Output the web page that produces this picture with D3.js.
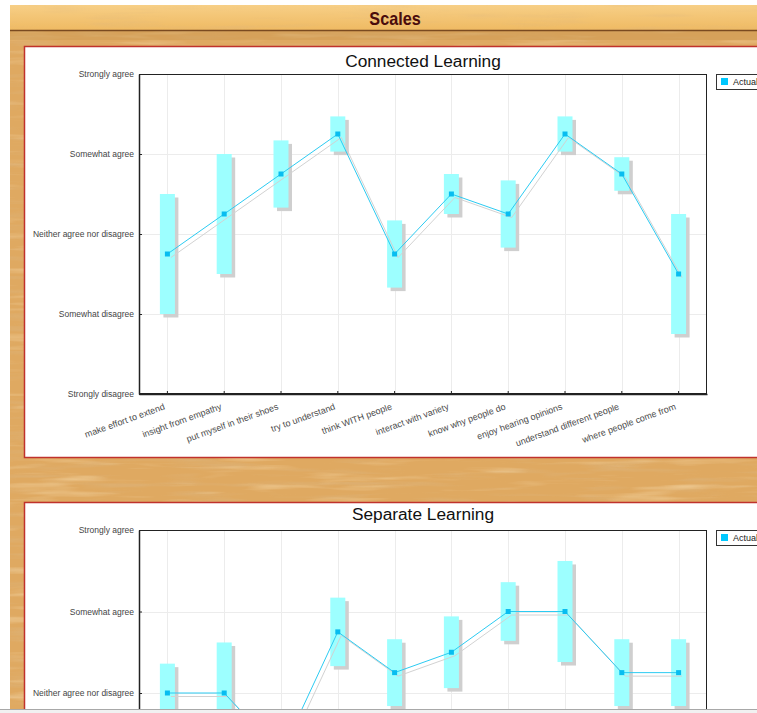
<!DOCTYPE html>
<html>
<head>
<meta charset="utf-8">
<script src="https://cdn.jsdelivr.net/npm/d3@7"></script>
<style>
  html, body { margin: 0; padding: 0; background: #ffffff; overflow: hidden; }
  svg { display: block; font-family: "Liberation Sans", Arial, sans-serif; }
</style>
</head>
<body>
<svg id="chart" width="757" height="713"></svg>
<script>
// ---------- data ----------
const levelLabels = ["Strongly disagree", "Somewhat disagree", "Neither agree nor disagree", "Somewhat agree", "Strongly agree"];
const levelValues = [1, 2, 3, 4, 5];

const connectedItems = ["make effort to extend", "insight from empathy", "put myself in their shoes", "try to understand",
  "think WITH people", "interact with variety", "know why people do", "enjoy hearing opinions",
  "understand different people", "where people come from"];
const connectedMean = [2.75, 3.25, 3.75, 4.25, 2.75, 3.5, 3.25, 4.25, 3.75, 2.5];
const connectedHigh = [3.5, 4.0, 4.17, 4.47, 3.17, 3.75, 3.67, 4.47, 3.96, 3.25];
const connectedLow  = [2.0, 2.5, 3.33, 4.03, 2.33, 3.25, 2.83, 4.03, 3.54, 1.75];

const separateItems = ["critique arguments", "look for flaws", "play devil's advocate", "evaluate evidence",
  "argue with authors", "objective criteria", "pick apart ideas", "separate feelings",
  "logical reasoning", "test ideas"];
const separateMean = [3.0, 3.0, 2.25, 3.75, 3.25, 3.5, 4.0, 4.0, 3.25, 3.25];
const separateHigh = [3.36, 3.62, 2.7, 4.17, 3.66, 3.94, 4.36, 4.62, 3.66, 3.66];
const separateLow  = [2.64, 2.38, 1.8, 3.33, 2.84, 3.06, 3.64, 3.38, 2.84, 2.84];

const seriesName = "Actual";
const pageTitle = "Scales";

// ---------- page ----------
const svg = d3.select("#chart");
const W = 757, H = 713, VIEW_BOTTOM = 709;
const defs = svg.append("defs");

function grainFilter(id, freq, seed, matrix) {
  const f = defs.append("filter").attr("id", id)
    .attr("x", 0).attr("y", 0).attr("width", 1).attr("height", 1);
  f.append("feTurbulence").attr("type", "fractalNoise")
    .attr("baseFrequency", freq).attr("numOctaves", 3).attr("seed", seed);
  f.append("feColorMatrix").attr("type", "matrix").attr("values", matrix);
}
// darker streaks
grainFilter("grainDark", "0.012 0.16", 7, "0 0 0 0 0.72  0 0 0 0 0.47  0 0 0 0 0.22  0 0 0 -3.0 1.5");
// lighter streaks
grainFilter("grainLight", "0.01 0.12", 19, "0 0 0 0 0.96  0 0 0 0 0.78  0 0 0 0 0.50  0 0 0 3.0 -1.65");

const hdrGrad = defs.append("linearGradient").attr("id", "hdr").attr("x1", 0).attr("y1", 0).attr("x2", 0).attr("y2", 1);
hdrGrad.append("stop").attr("offset", "0%").attr("stop-color", "#f7cf86");
hdrGrad.append("stop").attr("offset", "100%").attr("stop-color", "#efba63");

// wood background
svg.append("rect").attr("x", 10).attr("y", 5).attr("width", W - 10).attr("height", 704).attr("fill", "#dfa961");
svg.append("rect").attr("x", 10).attr("y", 5).attr("width", W - 10).attr("height", 704).attr("filter", "url(#grainDark)").attr("opacity", 0.45);
svg.append("rect").attr("x", 10).attr("y", 5).attr("width", W - 10).attr("height", 704).attr("filter", "url(#grainLight)").attr("opacity", 0.45);
// header band
svg.append("rect").attr("x", 10).attr("y", 5).attr("width", W - 10).attr("height", 25).attr("fill", "url(#hdr)");
svg.append("rect").attr("x", 10).attr("y", 5).attr("width", W - 10).attr("height", 25).attr("filter", "url(#grainDark)").attr("opacity", 0.25);
svg.append("rect").attr("x", 10).attr("y", 31).attr("width", W - 10).attr("height", 9).attr("fill", "#c99550").attr("opacity", 0.4);
svg.append("line").attr("x1", 10).attr("x2", W).attr("y1", 30.5).attr("y2", 30.5).attr("stroke", "#7a4a20").attr("stroke-width", 1.5);
svg.append("text").attr("text-anchor", "middle")
  .attr("transform", "translate(395,25) scale(0.9,1)")
  .style("font-family", "'Liberation Sans', Arial, sans-serif")
  .style("font-weight", "bold").style("font-size", "18px").attr("fill", "#4a0c0c").text(pageTitle);

// ---------- chart ----------
function drawPanel(cfg) {
  const g = svg.append("g");
  // panel box
  g.append("rect").attr("x", 24.5).attr("y", cfg.panelTop + 0.5).attr("width", W + 20).attr("height", cfg.panelH)
    .attr("fill", "#ffffff").attr("stroke", "#c0322c").attr("stroke-width", 1.5);

  const x = d3.scaleBand().domain(cfg.items).range([cfg.left, cfg.right]).paddingInner(0).paddingOuter(0);
  const y = d3.scaleLinear().domain([1, 5]).range([cfg.bottom, cfg.top]);
  const cx = d => x(d) + x.bandwidth() / 2;

  // title
  g.append("text").attr("x", (cfg.left + cfg.right) / 2).attr("y", cfg.titleY).attr("text-anchor", "middle")
    .style("font-size", "17.3px").attr("fill", "#111").text(cfg.title);

  // grid
  g.append("g").selectAll("line.h").data(levelValues).join("line")
    .attr("x1", cfg.left).attr("x2", cfg.right)
    .attr("y1", d => Math.round(y(d)) + 0.5).attr("y2", d => Math.round(y(d)) + 0.5)
    .attr("stroke", "#ececec");
  g.append("g").selectAll("line.v").data(cfg.items).join("line")
    .attr("x1", d => Math.round(cx(d)) + 0.5).attr("x2", d => Math.round(cx(d)) + 0.5)
    .attr("y1", cfg.top).attr("y2", cfg.bottom)
    .attr("stroke", "#ececec");

  const idx = d3.range(cfg.items.length);
  const bw = 15, off = 3.5;
  // bar shadows
  g.append("g").selectAll("rect").data(idx).join("rect")
    .attr("x", i => cx(cfg.items[i]) - bw / 2 + off)
    .attr("y", i => y(cfg.high[i]) + off)
    .attr("width", bw)
    .attr("height", i => y(cfg.low[i]) - y(cfg.high[i]))
    .attr("fill", "#cfcfcf");
  // bars
  g.append("g").selectAll("rect").data(idx).join("rect")
    .attr("x", i => cx(cfg.items[i]) - bw / 2)
    .attr("y", i => y(cfg.high[i]))
    .attr("width", bw)
    .attr("height", i => y(cfg.low[i]) - y(cfg.high[i]))
    .attr("fill", "#9dffff");

  const line = d3.line().x(i => cx(cfg.items[i])).y(i => y(cfg.mean[i]));
  g.append("path").datum(idx).attr("d", line).attr("fill", "none")
    .attr("stroke", "#d2d2d2").attr("stroke-width", 1).attr("transform", `translate(${off},${off})`);
  g.append("path").datum(idx).attr("d", line).attr("fill", "none")
    .attr("stroke", "#2ccbf2").attr("stroke-width", 1);
  g.append("g").selectAll("rect").data(idx).join("rect")
    .attr("x", i => cx(cfg.items[i]) - 2.5).attr("y", i => y(cfg.mean[i]) - 2.5)
    .attr("width", 5).attr("height", 5).attr("fill", "#08bdf0");

  // frame (top/right)
  g.append("rect").attr("x", cfg.left + 0.5).attr("y", cfg.top + 0.5)
    .attr("width", cfg.right - cfg.left - 1).attr("height", cfg.bottom - cfg.top - 1)
    .attr("fill", "none").attr("stroke", "#222").attr("stroke-width", 1);

  // y axis
  const yAxis = d3.axisLeft(y).tickValues(levelValues).tickFormat((d, i) => levelLabels[i])
    .tickSizeInner(-3).tickSizeOuter(0).tickPadding(5);
  const ya = g.append("g").attr("transform", `translate(${cfg.left},0)`).call(yAxis);
  ya.select(".domain").attr("stroke", "#222").attr("stroke-width", 1.5);
  ya.selectAll(".tick line").attr("stroke", "#222");
  ya.selectAll(".tick text").style("font-size", "8.5px").attr("fill", "#444")
    .style("font-family", "'Liberation Sans', Arial, sans-serif");
  // labels that fall below the visible page area are not shown (as in the reference)
  ya.selectAll(".tick").filter(d => y(d) > VIEW_BOTTOM - 4).select("text").remove();

  // x axis
  const xAxis = d3.axisBottom(x).tickSizeInner(-3).tickSizeOuter(0);
  const xa = g.append("g").attr("transform", `translate(0,${cfg.bottom})`).call(xAxis);
  xa.select(".domain").attr("stroke", "#222").attr("stroke-width", 1.5);
  xa.selectAll(".tick line").attr("stroke", "#222");
  xa.selectAll(".tick text").style("font-size", "9px").attr("fill", "#4a4a4a")
    .style("font-family", "'Liberation Sans', Arial, sans-serif")
    .attr("text-anchor", "end").attr("x", 0).attr("y", 0).attr("dy", 0)
    .attr("transform", "translate(-2,15) rotate(-20)");
  if (cfg.bottom > VIEW_BOTTOM) xa.selectAll(".tick text").remove();

  // legend
  const lg = g.append("g").attr("transform", `translate(${cfg.legendX},${cfg.top})`);
  lg.append("rect").attr("x", 0.5).attr("y", 0.5).attr("width", 60).attr("height", 15)
    .attr("fill", "#fff").attr("stroke", "#333");
  lg.append("rect").attr("x", 5).attr("y", 4).attr("width", 7).attr("height", 7).attr("fill", "#00c8ff");
  lg.append("text").attr("x", 17).attr("y", 11).style("font-size", "9px").attr("fill", "#222").text(seriesName);
}

drawPanel({
  title: "Connected Learning", items: connectedItems, mean: connectedMean, high: connectedHigh, low: connectedLow,
  panelTop: 46, panelH: 411, titleY: 67, left: 139, right: 707, top: 74, bottom: 394, legendX: 716
});
drawPanel({
  title: "Separate Learning", items: separateItems, mean: separateMean, high: separateHigh, low: separateLow,
  panelTop: 502, panelH: 420, titleY: 520, left: 139, right: 707, top: 530, bottom: 856, legendX: 716
});

// bottom strip
svg.append("rect").attr("x", 0).attr("y", 709).attr("width", W).attr("height", 4).attr("fill", "#f1f1f1");
svg.append("line").attr("x1", 0).attr("x2", W).attr("y1", 709.5).attr("y2", 709.5).attr("stroke", "#a8a8a8");
</script>
</body>
</html>
